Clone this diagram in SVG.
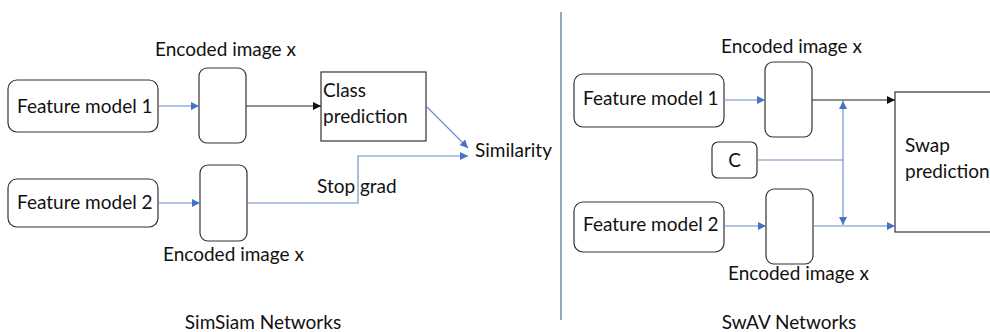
<svg xmlns="http://www.w3.org/2000/svg" width="990" height="332" viewBox="0 0 990 332">
  <defs>
    <style>
      text { font-family: Lato, "Open Sans", "Liberation Sans", sans-serif; fill: #111; }
      .lbl { font-size: 19px; }
      .cap { font-size: 19px; }
      .box { fill: #fff; stroke: #333; stroke-width: 1.2; }
      .blue { fill: none; stroke: #6a8cc8; stroke-width: 1.1; }
      .dark { fill: none; stroke: #222; stroke-width: 1.1; }
    </style>
    <marker id="ab" viewBox="0 0 10 10" refX="10" refY="5" markerWidth="8" markerHeight="8" markerUnits="userSpaceOnUse" orient="auto">
      <path d="M0,0 L10,5 L0,10 z" fill="#4472c4"/>
    </marker>
    <marker id="ak" viewBox="0 0 10 10" refX="10" refY="5" markerWidth="8" markerHeight="8" markerUnits="userSpaceOnUse" orient="auto">
      <path d="M0,0 L10,5 L0,10 z" fill="#111"/>
    </marker>
  </defs>

  <!-- divider -->
  <line x1="561" y1="12" x2="561" y2="320" stroke="#4a6aa0" stroke-width="1.2"/>

  <!-- SimSiam -->
  <g id="sim-fm1">
    <rect class="box" x="8" y="80" width="150" height="52" rx="9"/>
    <text class="lbl" x="17" y="113">Feature model 1</text>
  </g>
  <g id="sim-enc1">
    <rect class="box" x="199" y="68" width="47" height="75" rx="8"/>
    <text class="lbl" x="155" y="56">Encoded image x</text>
  </g>
  <g id="sim-cls">
    <rect class="box" x="321" y="72" width="105" height="69"/>
    <text class="lbl" x="323" y="97">Class</text>
    <text class="lbl" x="323" y="123">prediction</text>
  </g>
  <g id="sim-fm2">
    <rect class="box" x="8" y="179" width="150" height="48" rx="9"/>
    <text class="lbl" x="17" y="209">Feature model 2</text>
  </g>
  <g id="sim-enc2">
    <rect class="box" x="200" y="165" width="47" height="76" rx="8"/>
    <text class="lbl" x="163" y="261">Encoded image x</text>
  </g>
  <g id="sim-sim">
    <text class="lbl" x="475" y="157">Similarity</text>
  </g>
  <g id="sim-stop">
    <text class="lbl" x="317" y="193">Stop grad</text>
  </g>
  <text class="cap" x="263" y="329" text-anchor="middle">SimSiam Networks</text>

  <!-- SwAV -->
  <g id="swav-fm1">
    <rect class="box" x="574" y="74" width="150" height="53" rx="9"/>
    <text class="lbl" x="583" y="105">Feature model 1</text>
  </g>
  <g id="swav-enc1">
    <rect class="box" x="765" y="62" width="47" height="75" rx="8"/>
    <text class="lbl" x="721" y="53">Encoded image x</text>
  </g>
  <g id="swav-c">
    <rect class="box" x="712" y="142" width="45" height="36" rx="6"/>
    <text class="lbl" x="734.5" y="167" text-anchor="middle">C</text>
  </g>
  <g id="swav-fm2">
    <rect class="box" x="574" y="202" width="150" height="50" rx="9"/>
    <text class="lbl" x="583" y="231">Feature model 2</text>
  </g>
  <g id="swav-enc2">
    <rect class="box" x="766" y="189" width="47" height="75" rx="8"/>
    <text class="lbl" x="728" y="280">Encoded image x</text>
  </g>
  <g id="swav-swap">
    <rect class="box" x="895" y="92" width="110" height="140"/>
    <text class="lbl" x="905" y="152">Swap</text>
    <text class="lbl" x="905" y="178">prediction</text>
  </g>
  <text class="cap" x="789" y="329" text-anchor="middle">SwAV Networks</text>

  <!-- connectors -->
  <g id="connectors">
    <line class="blue" x1="158" y1="106" x2="199" y2="106" marker-end="url(#ab)"/>
    <line class="dark" x1="246" y1="106" x2="321" y2="106" marker-end="url(#ak)"/>
    <line class="blue" x1="158" y1="203" x2="200" y2="203" marker-end="url(#ab)"/>
    <polyline class="blue" points="247,203 358,203 358,156 468,156" marker-end="url(#ab)"/>
    <line class="blue" x1="427" y1="107" x2="468" y2="148" marker-end="url(#ab)"/>

    <line class="blue" x1="724" y1="100" x2="765" y2="100" marker-end="url(#ab)"/>
    <line class="dark" x1="812" y1="100" x2="895" y2="100" marker-end="url(#ak)"/>
    <line class="blue" x1="724" y1="226" x2="766" y2="226" marker-end="url(#ab)"/>
    <line class="blue" x1="813" y1="226" x2="895" y2="226" marker-end="url(#ab)"/>
    <line class="blue" x1="757" y1="160" x2="843" y2="160"/>
    <line class="blue" x1="843" y1="160" x2="843" y2="101" marker-end="url(#ab)"/>
    <line class="blue" x1="843" y1="160" x2="843" y2="225" marker-end="url(#ab)"/>
  </g>
</svg>
